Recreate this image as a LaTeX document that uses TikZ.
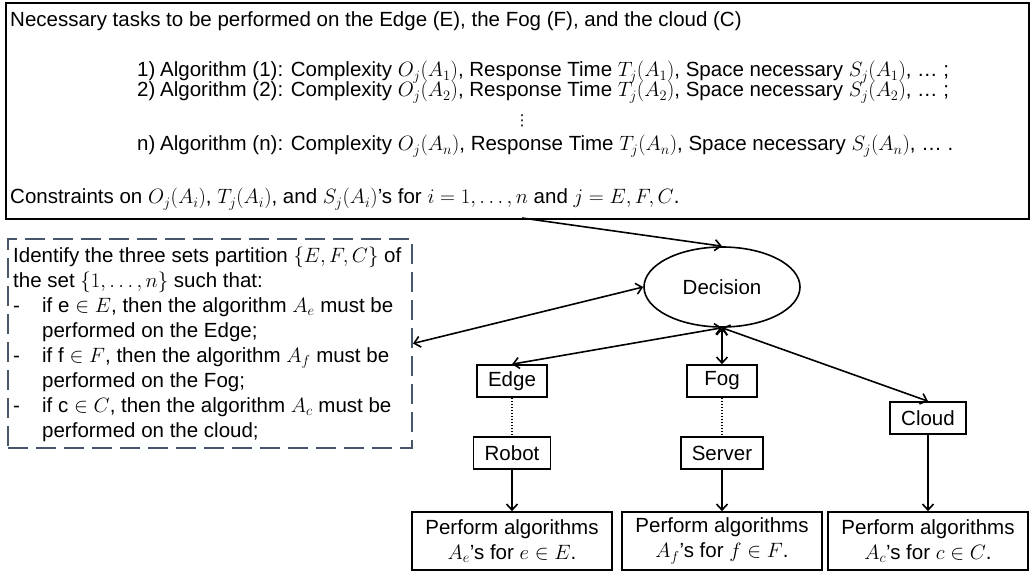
\documentclass[tikz,border=0pt]{standalone}
\usepackage{fontspec}
\setmainfont{Liberation Sans}
\newfontfamily\symfont{DejaVu Sans}
\usetikzlibrary{shapes.geometric,arrows.meta,positioning}
\definecolor{slate}{RGB}{70,86,108}
\tikzset{tier box/.style={rectangle,draw,line width=1.6pt,inner xsep=11pt,inner ysep=0pt,minimum width=70pt,minimum height=32pt},
         result box/.style={rectangle,draw,line width=1.6pt,inner sep=0pt,minimum width=200pt,minimum height=58pt,align=center},
         decision node/.style={ellipse,draw,line width=1.6pt,minimum width=156pt,minimum height=80pt,inner sep=0pt},
         text line/.style={anchor=base west,inner sep=0pt},
         link/.style={line width=1.6pt},
}

\begin{document}
\begin{tikzpicture}[x=1pt,y=-1pt,
>={Straight Barb[length=6pt,width=11pt]},
font=\fontsize{20.5pt}{25pt}\selectfont]
\useasboundingbox (0,0) rectangle (1030,572);

% the task list on top
\node[draw,line width=2.2pt,minimum width=1023pt,minimum height=216pt,inner sep=0pt,anchor=north west] (tasks) at (5,2) {};
\node[text line] (head) at (10,27) {Necessary tasks to be performed on the Edge (E), the Fog (F), and the cloud (C)};
\node[text line] (num1) at (137,77) {1)};
\node[text line] (alg1) at (160,77) {Algorithm (1): Complexity $O_j(A_1)$, Response Time $T_j(A_1)$, Space necessary $S_j(A_1)$, … ;};
\node[text line] (num2) at (137,97) {2)};
\node[text line] (alg2) at (160,97) {Algorithm (2): Complexity $O_j(A_2)$, Response Time $T_j(A_2)$, Space necessary $S_j(A_2)$, … ;};
\node[inner sep=0pt,font=\fontsize{15pt}{15pt}\symfont] (vdots) at (522,121) {⋮};
\node[text line] (numn) at (137,151) {n)};
\node[text line] (algn) at (160,151) {Algorithm (n): Complexity $O_j(A_n)$, Response Time $T_j(A_n)$, Space necessary $S_j(A_n)$, … .};
\node[text line] (cons) at (10,204) {Constraints on $O_j(A_i)$, $T_j(A_i)$, and $S_j(A_i)$'s for $i=1,\ldots,n$ and $j=E,F,C$.};
\coordinate (taskfoot) at (522,218);

% what has to be decided
\node[draw=slate,line width=2pt,dash pattern=on 20pt off 8pt,minimum width=404pt,minimum height=209pt,inner sep=0pt,anchor=north west] (identify) at (7,238) {};
\node[inner sep=0pt,anchor=north west] (idtext) at (13,244.5) {%
\begin{tabular}{@{}p{29pt}@{}l@{}}
\multicolumn{2}{@{}l@{}}{Identify the three sets partition $\{E,F,C\}$ of}\\
\multicolumn{2}{@{}l@{}}{the set $\{1,\ldots,n\}$ such that:}\\
-&if $\mathrm{e}\in E$, then the algorithm $A_e$ must be\\
 &performed on the Edge;\\
-&if $\mathrm{f}\in F$, then the algorithm $A_f$ must be\\
 &performed on the Fog;\\
-&if $\mathrm{c}\in C$, then the algorithm $A_c$ must be\\
 &performed on the cloud;
\end{tabular}};

\node[decision node] (decision) at (722,287) {Decision};

\node[tier box] (edge) at (512,381) {Edge};
\node[tier box] (fog) at (722,381) {Fog};
\node[tier box] (cloud) at (928,418) {Cloud};
\node[tier box] (robot) at (512,453) {Robot};
\node[tier box] (server) at (722,453) {Server};

\node[result box] (resE) at (512,541) {Perform algorithms\\$A_e$'s for $e\in E$.};
\node[result box] (resF) at (722,541) {Perform algorithms\\$A_f$'s for $f\in F$.};
\node[result box] (resC) at (928,541) {Perform algorithms\\$A_c$'s for $c\in C$.};

\draw[link,->] (taskfoot) -- (decision.north);
\draw[link,<->] (identify.east) -- (decision.west);
\draw[link,<->] (decision.south) -- (edge.north);
\draw[link,<->] (decision.south) -- (fog.north);
\draw[link,<->] (decision.south) -- (cloud.north);
\draw[link,dash pattern=on 1.5pt off 1.5pt] (edge) -- (robot);
\draw[link,dash pattern=on 1.5pt off 1.5pt] (fog) -- (server);
\draw[link,->] (robot) -- (resE);
\draw[link,->] (server) -- (resF);
\draw[link,->] (cloud) -- (resC);

\end{tikzpicture}
\end{document}
